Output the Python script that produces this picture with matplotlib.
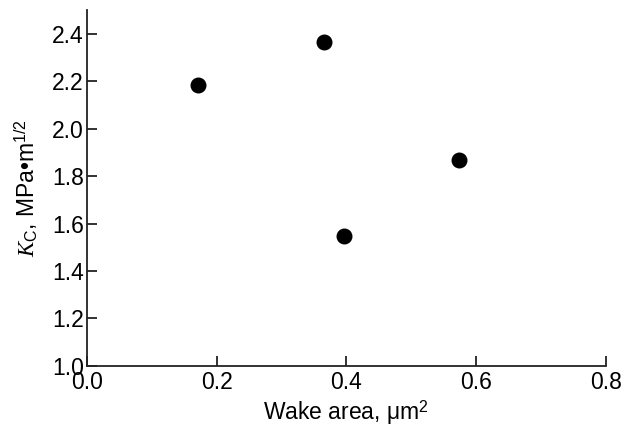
import matplotlib
matplotlib.use("Agg")
import matplotlib.pyplot as plt

# data
wake_area = [0.172, 0.366, 0.397, 0.573]
kc = [2.182, 2.365, 1.547, 1.867]

plt.rcParams['font.family'] = ['Liberation Sans', 'DejaVu Sans']
plt.rcParams['mathtext.fontset'] = 'custom'
plt.rcParams['mathtext.rm'] = 'Liberation Sans'
plt.rcParams['mathtext.it'] = 'Liberation Serif:italic'

fig = plt.figure(figsize=(6.24, 4.32), dpi=100)
ax = fig.add_axes([0.139, 0.153, 0.832, 0.824])

ax.scatter(wake_area, kc, s=110, color='black', zorder=3)

ax.set_xlim(0.0, 0.8)
ax.set_ylim(1.0, 2.5)
ax.set_xticks([0.0, 0.2, 0.4, 0.6, 0.8])
ax.set_yticks([1.0, 1.2, 1.4, 1.6, 1.8, 2.0, 2.2, 2.4])
ax.xaxis.set_major_formatter(matplotlib.ticker.FormatStrFormatter('%.1f'))
ax.yaxis.set_major_formatter(matplotlib.ticker.FormatStrFormatter('%.1f'))

ax.spines['top'].set_visible(False)
ax.spines['right'].set_visible(False)
for s in ['left', 'bottom']:
    ax.spines[s].set_linewidth(1.3)
    ax.spines[s].set_color('#222222')
ax.tick_params(direction='in', length=7, width=1.3, color='#222222',
               labelsize=16.5, pad=2)
ax.tick_params(axis='x', pad=4)

ax.set_xlabel('Wake area, μm$^2$', fontsize=16.5, labelpad=3)
ax.set_ylabel(r'$\mathit{K}_{\mathrm{C}}$, MPa•m$^{1/2}$', fontsize=16.5, labelpad=9)

fig.savefig('out.png', dpi=100)
